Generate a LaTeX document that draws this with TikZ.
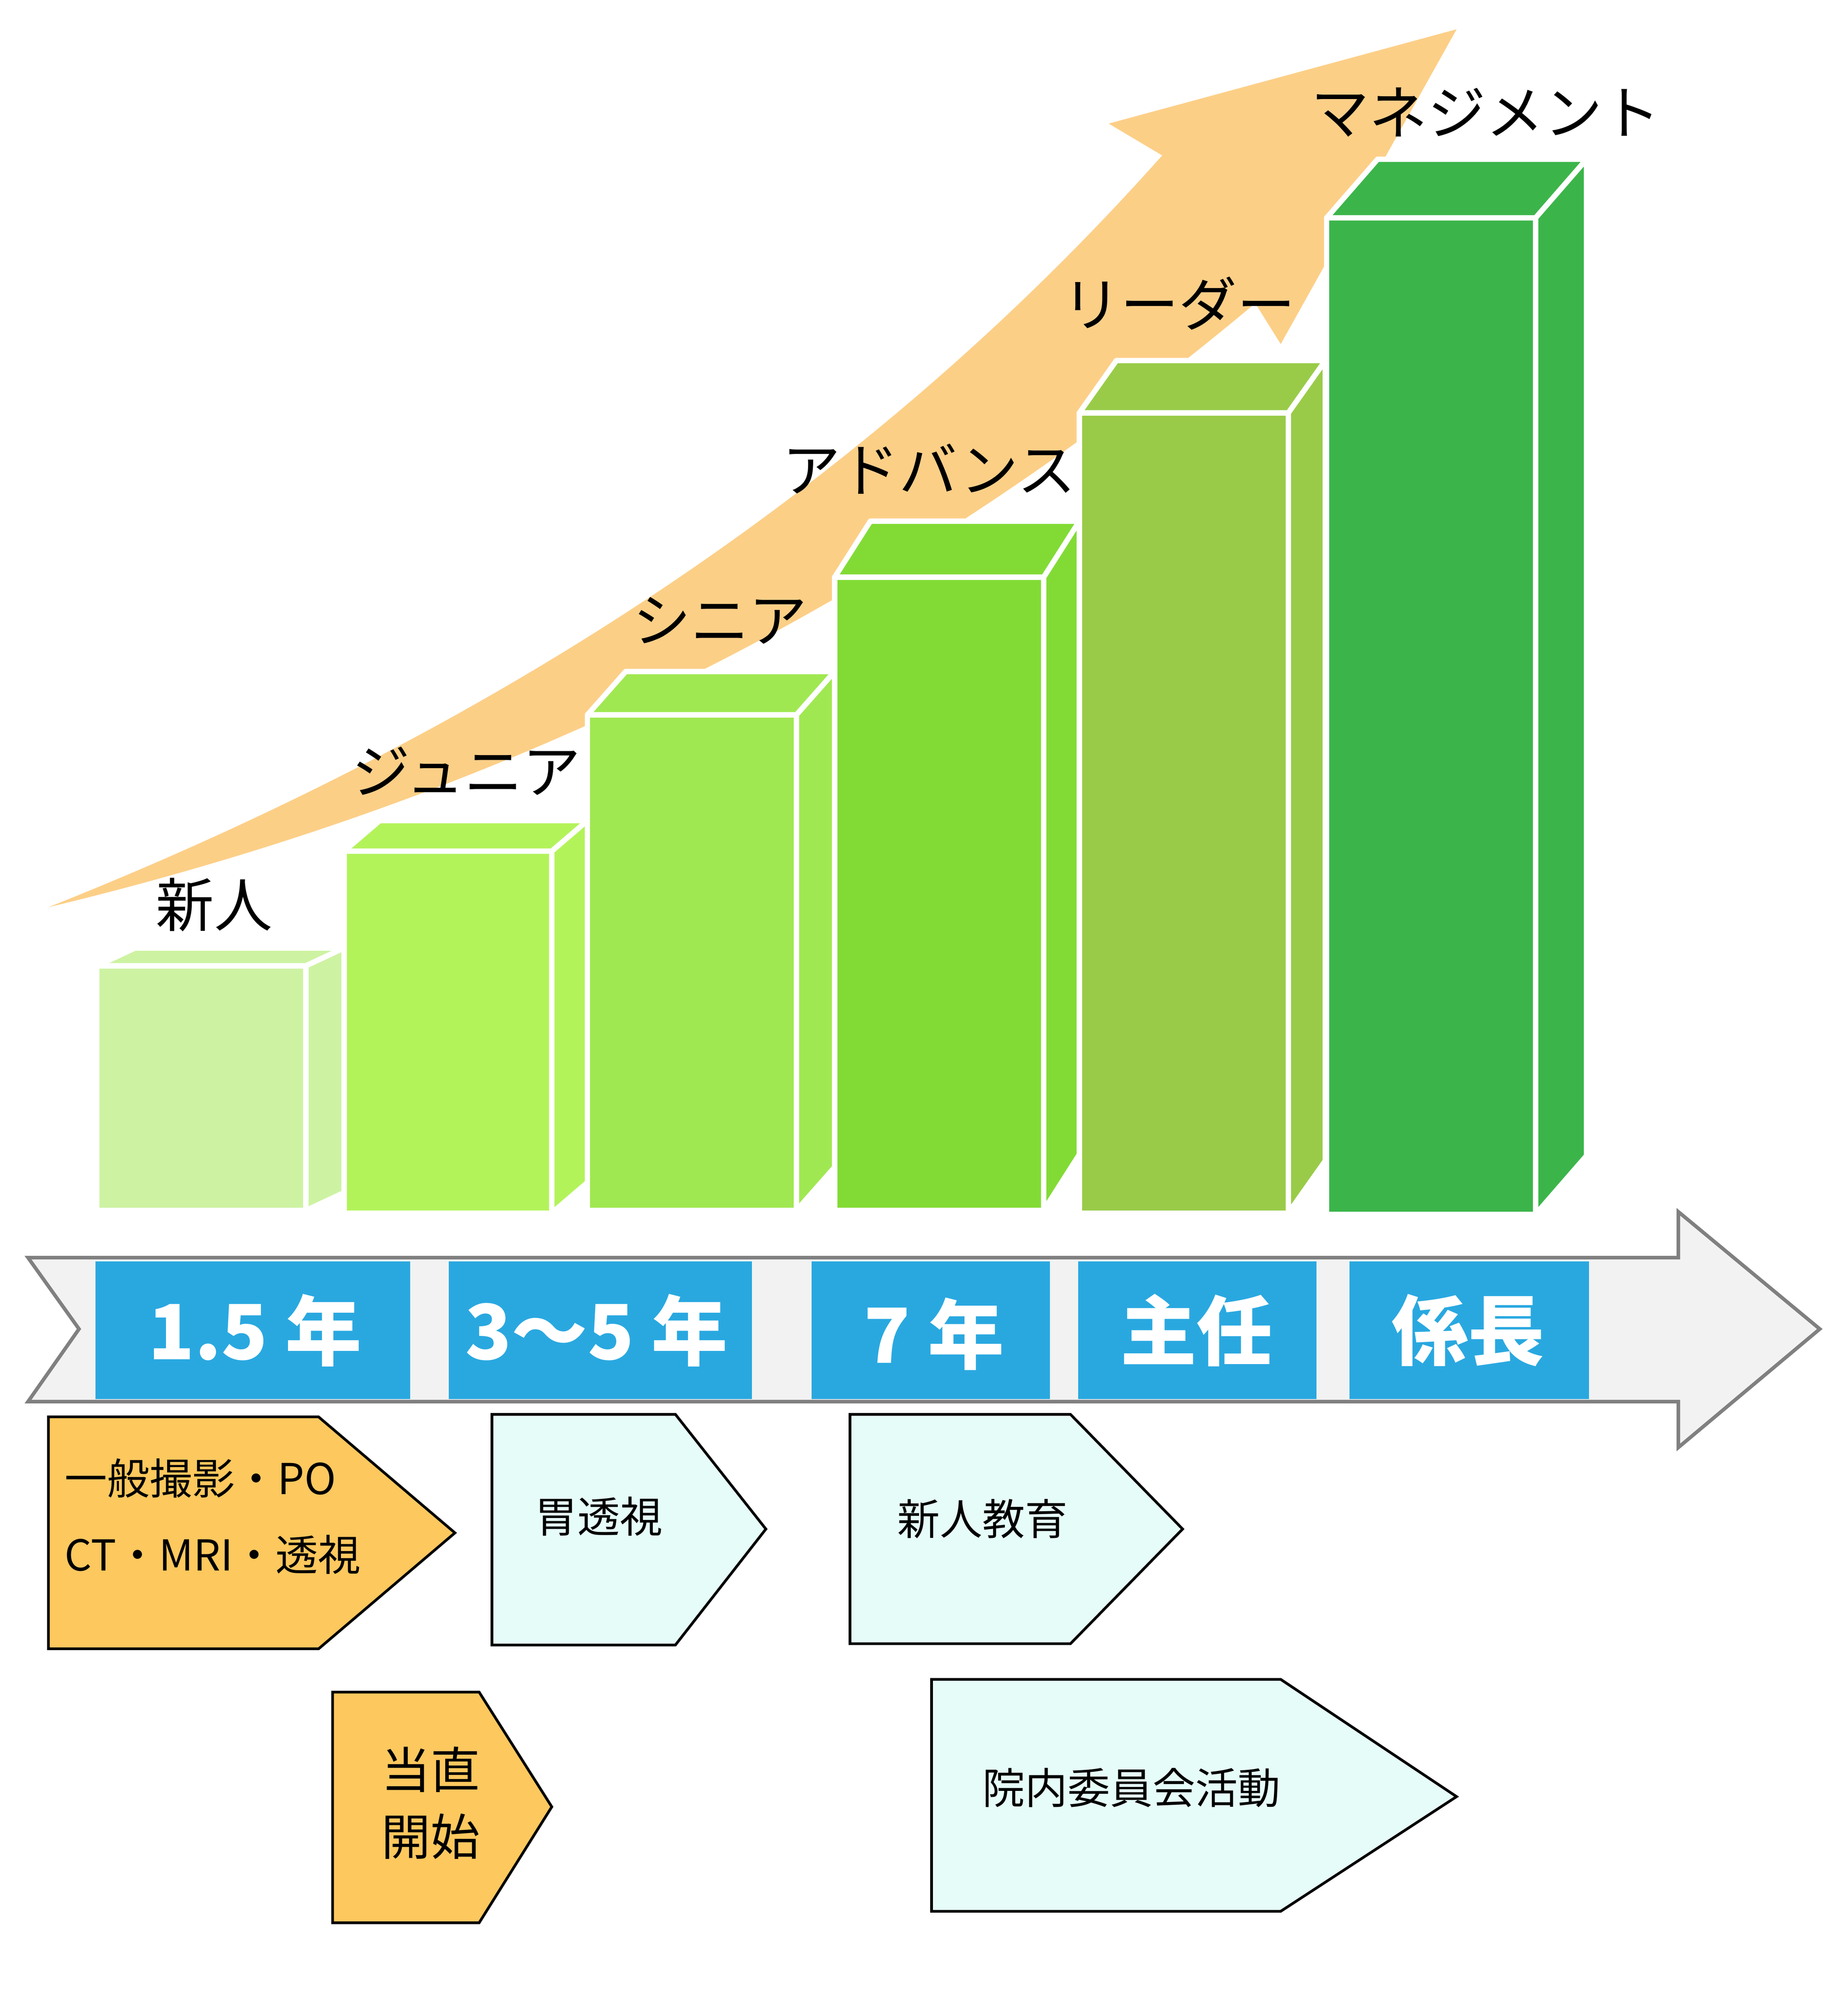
\documentclass[tikz,border=0pt]{standalone}
\usepackage{fontspec}
\newfontfamily\jp{Noto Sans CJK JP}
\definecolor{arrowor}{HTML}{FCCF87}
\definecolor{bA}{HTML}{CDF3A2}
\definecolor{bB}{HTML}{B3F35A}
\definecolor{bC}{HTML}{A0E851}
\definecolor{bD}{HTML}{82DB35}
\definecolor{bE}{HTML}{99CB48}
\definecolor{bF}{HTML}{3BB54A}
\definecolor{tlgray}{HTML}{F2F2F2}
\definecolor{blu}{HTML}{29A8E0}
\definecolor{orbox}{HTML}{FDC85E}
\definecolor{mint}{HTML}{E6FCF8}
\tikzset{
 face/.style={draw=white,line width=1.2pt,line join=round},
 lvl/.style={font=\jp\fontsize{13}{15}\selectfont,inner sep=0},
 yr/.style={font=\jp\bfseries\fontsize{17}{19}\selectfont,text=white,inner sep=0},
 lbl/.style={font=\jp\fontsize{9.5}{12}\selectfont,inner sep=0,align=center},
 pent/.style={draw=black,line width=0.6pt},
}
\newcommand{\mybar}[7]{% x1 x2 top bottom dx dy color
 \fill[#7,face] (#1,#3) rectangle (#2,#4);
 \fill[#7,face] (#1,#3) -- ({#1+#5},{#3+#6}) -- ({#2+#5},{#3+#6}) -- (#2,#3) -- cycle;
 \fill[#7,face] (#2,#3) -- ({#2+#5},{#3+#6}) -- ({#2+#5},{#4+#6}) -- (#2,#4) -- cycle;
}
\begin{document}
\begin{tikzpicture}[x=0.01cm,y=-0.01cm]
\useasboundingbox (0,0) rectangle (1450,1561);
% big arrow
\fill[arrowor] (38,712) .. controls (420,560) and (700,360) .. (912,122)
  -- (870,97) -- (1143,23) -- (1005,270) -- (985,238)
  .. controls (720,460) and (420,620) .. (38,712) -- cycle;
% bars
\mybar{76}{240}{758}{950}{30}{-14}{bA}
\mybar{270}{433}{668}{952}{28}{-24}{bB}
\mybar{461}{625}{561}{950}{30}{-34}{bC}
\mybar{655}{819}{453}{950}{28}{-44}{bD}
\mybar{847}{1011}{324}{952}{29}{-41}{bE}
\mybar{1041}{1205}{171}{953}{40}{-46}{bF}
% level labels
\node[lvl] (l1) at (168,710) {新人};
\node[lvl] (l2) at (366,605) {ジュニア};
\node[lvl] (l3) at (565,487) {シニア};
\node[lvl] (l4) at (729,368) {アドバンス};
\node[lvl] (l5) at (925,238) {リーダー};
\node[lvl] (l6) at (1166,88) {マネジメント};
% timeline
\draw[fill=tlgray,draw=gray,line width=0.8pt] (22,987) -- (1317,987) -- (1317,951) -- (1428,1043) -- (1317,1136) -- (1317,1100) -- (22,1100) -- (62,1043) -- cycle;
\fill[blu] (75,990) rectangle (322,1098);
\fill[blu] (352,990) rectangle (590,1098);
\fill[blu] (637,990) rectangle (824,1098);
\fill[blu] (846,990) rectangle (1033,1098);
\fill[blu] (1059,990) rectangle (1247,1098);
\node[yr] (y1) at (200,1044) {1.5 年};
\node[yr] (y2) at (468,1044) {3～5 年};
\node[yr] (y3) at (733,1047) {7 年};
\node[yr] (y4) at (939,1044) {主任};
\node[yr] (y5) at (1152,1044) {係長};
% pentagons
\draw[pent,fill=orbox] (38,1112) -- (250,1112) -- (357,1203) -- (250,1294) -- (38,1294) -- cycle;
\node[lbl,anchor=west] (p1a) at (50,1160) {一般撮影・PO};
\node[lbl,anchor=west] (p1b) at (50,1220) {CT・MRI・透視};
\draw[pent,fill=mint] (386,1110) -- (530,1110) -- (601,1200) -- (530,1291) -- (386,1291) -- cycle;
\node[lbl] (p2) at (470,1190) {胃透視};
\draw[pent,fill=mint] (667,1110) -- (840,1110) -- (928,1200) -- (840,1290) -- (667,1290) -- cycle;
\node[lbl] (p3) at (771,1192) {新人教育};
\draw[pent,fill=orbox] (261,1328) -- (376,1328) -- (433,1418) -- (376,1509) -- (261,1509) -- cycle;
\node[lbl,font=\jp\fontsize{11}{15}\selectfont] (p4) at (338,1415) {当直\\開始};
\draw[pent,fill=mint] (731,1318) -- (1005,1318) -- (1143,1410) -- (1005,1500) -- (731,1500) -- cycle;
\node[lbl] (p5) at (888,1403) {院内委員会活動};
\end{tikzpicture}
\end{document}
